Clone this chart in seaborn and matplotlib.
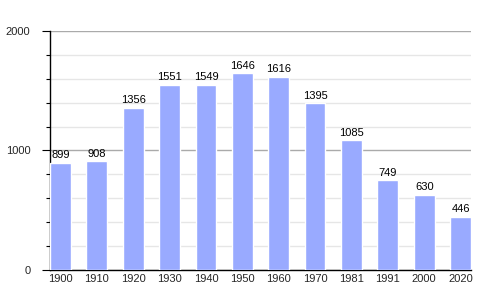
import matplotlib
matplotlib.use("Agg")
import matplotlib.pyplot as plt
import seaborn as sns
import pandas as pd
from matplotlib.ticker import MultipleLocator

years = ["1900", "1910", "1920", "1930", "1940", "1950", "1960", "1970", "1981", "1991", "2000", "2020"]
population = [899, 908, 1356, 1551, 1549, 1646, 1616, 1395, 1085, 749, 630, 446]

df = pd.DataFrame({"year": years, "pop": population})

sns.set_theme(style="white")
plt.rcParams['font.family'] = ['Liberation Sans', 'DejaVu Sans']

fig = plt.figure(figsize=(5, 3), dpi=100)
ax = fig.add_axes([0.1, 0.1, 0.842, 0.797])

sns.barplot(data=df, x="year", y="pop", color="#99aaff", saturation=1, width=0.57, ax=ax, zorder=3)

ax.set_xlim(-0.285, len(years) - 1 + 0.285)
ax.set_ylim(0, 2000)
ax.yaxis.set_major_locator(MultipleLocator(1000))
ax.yaxis.set_minor_locator(MultipleLocator(200))
ax.grid(which="major", axis="y", color="#aaaaaa", linewidth=1, zorder=0)
ax.grid(which="minor", axis="y", color="#e6e6e6", linewidth=1, zorder=0)
ax.set_axisbelow(True)

for s in ["top", "right"]:
    ax.spines[s].set_visible(False)
for s in ["left", "bottom"]:
    ax.spines[s].set_color("black")
    ax.spines[s].set_linewidth(1)

ax.tick_params(axis="y", which="major", length=6, width=0.8, color="black", left=True, labelsize=8, pad=8)
ax.tick_params(axis="y", which="minor", length=3, width=0.8, color="black", left=True)
ax.tick_params(axis="x", length=0, labelsize=8, pad=3)
ax.set_xlabel("")
ax.set_ylabel("")

for i, v in enumerate(population):
    ax.text(i, v + 20, str(v), ha="center", va="bottom", fontsize=8, color="black", zorder=4)

fig.savefig("out.png", dpi=100)
